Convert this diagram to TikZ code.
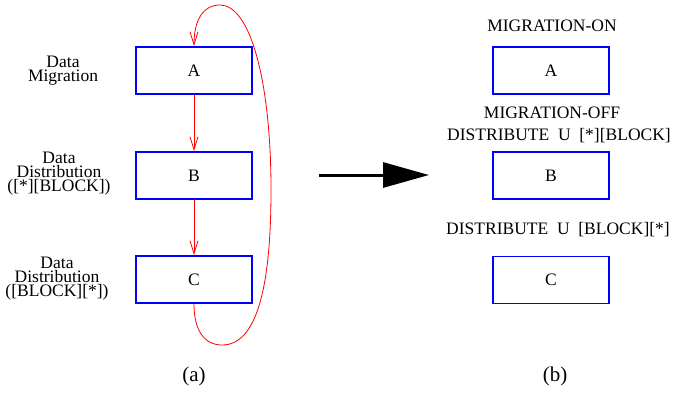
\documentclass[tikz,border=0pt]{standalone}
\usepackage{fontspec}
\setmainfont{Liberation Serif}
\usetikzlibrary{arrows.meta}
\tikzset{
  box/.style={draw=blue, line width=1.8pt, minimum width=116pt, minimum height=47pt, inner sep=0pt, font=\fontsize{17.5}{15.5}\selectfont},
  lbl/.style={align=center, inner sep=0pt, font=\fontsize{17.5}{14}\selectfont},
  captxt/.style={inner sep=0pt, font=\fontsize{21}{21}\selectfont},
  redarr/.style={draw=red, line width=0.8pt, -{Straight Barb[length=13pt,width=8pt]}},
}
\begin{document}
\begin{tikzpicture}[x=1pt,y=-1pt]
\path[use as bounding box] (0,0) rectangle (673,392);
% left
\node[box] (A) at (194,70.5) {A};
\node[box] (B) at (194,175.5) {B};
\node[box] (C) at (194,279.5) {C};
\node[lbl] (la) at (63,71) {Data\\Migration};
\node[lbl] (lb) at (59,174) {Data\\Distribution\\([*][BLOCK])};
\node[lbl] (lc) at (57,279) {Data\\Distribution\\([BLOCK][*])};
\draw[redarr] (A) -- (B);
\draw[redarr] (B) -- (C);
\draw[redarr] (C.south) .. controls (194,330) and (204,345) .. (222,345)
  .. controls (256,345) and (271,290) .. (271,190)
  .. controls (271,80) and (250,5) .. (220,5)
  .. controls (203,5) and (194,20) .. (A.north);
\node[captxt] (capa) at (194,376) {(a)};
% arrow
\coordinate (ar1) at (319,175);
\coordinate (ar2) at (429,175);
\draw[line width=3pt, -{Triangle[length=46pt,width=25pt]}] (ar1) -- (ar2);
% right
\node[box] (RA) at (551,70.5) {A};
\node[box] (RB) at (551,175.5) {B};
\node[box] (RC) at (551,280) {C};
\node[lbl] (t1) at (552,26) {MIGRATION-ON};
\node[lbl] (t2) at (552,113) {MIGRATION-OFF};
\node[lbl] (t3) at (559,136) {DISTRIBUTE\ \ U\ \ [*][BLOCK]};
\node[lbl] (t4) at (558,230) {DISTRIBUTE\ \ U\ \ [BLOCK][*]};
\node[captxt] (capb) at (555,376) {(b)};
\end{tikzpicture}
\end{document}
